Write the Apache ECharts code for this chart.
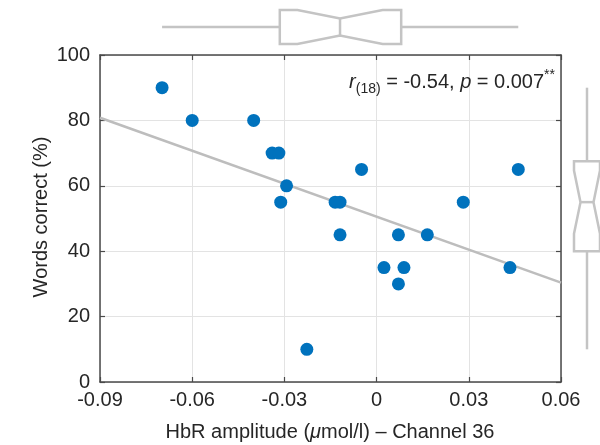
<!DOCTYPE html>
<html>
<head>
<meta charset="utf-8">
<script src="https://cdn.jsdelivr.net/npm/echarts@6/dist/echarts.min.js"></script>
<style>html,body{margin:0;padding:0;background:#fff}#c{width:600px;height:445px}</style>
</head>
<body>
<div id="c"></div>
<script>
// ---- data ----
var hbrAmplitude = [-0.0698, -0.0600, -0.0400, -0.0340, -0.0318, -0.0293, -0.0312, -0.0049, -0.0135, -0.0119,
                    -0.0119, -0.0227, 0.0461, 0.0282, 0.0071, 0.0165, 0.0024, 0.0089, 0.0071, 0.0434];
var wordsCorrect = [90, 80, 80, 70, 70, 60, 55, 65, 55, 55,
                    45, 10, 65, 55, 45, 45, 35, 35, 30, 35];
var fitX = [-0.09, 0.06];
var fitY = [80.8, 30.4];
var xTicks = [-0.09, -0.06, -0.03, 0, 0.03, 0.06];
var yTicks = [0, 20, 40, 60, 80, 100];
var statText = {r: 'r', df: '(18)', rest1: ' = -0.54, ', p: 'p', rest2: ' = 0.007', stars: '**'};

// ---- helpers ----
function prctile(arr, p) { // MATLAB-style percentile
  var s = arr.slice().sort(function (a, b) { return a - b; });
  var n = s.length, pos = p / 100 * n + 0.5;
  if (pos <= 1) return s[0];
  if (pos >= n) return s[n - 1];
  var i = Math.floor(pos), f = pos - i;
  return s[i - 1] + f * (s[i] - s[i - 1]);
}
function boxStats(arr) {
  var q1 = prctile(arr, 25), med = prctile(arr, 50), q3 = prctile(arr, 75);
  var iqr = q3 - q1, n = arr.length;
  var lo = q1 - 1.5 * iqr, hi = q3 + 1.5 * iqr;
  var wLo = Math.min.apply(null, arr.filter(function (v) { return v >= lo; }));
  var wHi = Math.max.apply(null, arr.filter(function (v) { return v <= hi; }));
  var nh = 1.57 * iqr / Math.sqrt(n);
  return [q1, med - nh, med, med + nh, q3, wLo, wHi];
}
var xBox = boxStats(hbrAmplitude);
var yBox = boxStats(wordsCorrect);

var txt = '#262626', boxCol = '#c4c4c4', axisCol = '#4a4a4a';
var FONT = 'Liberation Sans, Arial, sans-serif';

function fmtX(v) { if (Math.abs(v) < 1e-9) return '0'; return (Math.round(v * 100) / 100).toFixed(2); }

var scatterData = hbrAmplitude.map(function (x, i) { return [x, wordsCorrect[i]]; });
var fitData = fitX.map(function (x, i) { return [x, fitY[i]]; });

var chart = echarts.init(document.getElementById('c'), null, {renderer: 'canvas'});

function notchedBox(horizontal) {
  return function (params, api) {
    var q1 = api.value(0), nlo = api.value(1), med = api.value(2), nhi = api.value(3),
        q3 = api.value(4), wlo = api.value(5), whi = api.value(6);
    var pts, wl, wh, ml;
    var P = horizontal ? function (v, t) { return api.coord([v, t]); }
                       : function (v, t) { return api.coord([t, v]); };
    pts = [P(q1, 0), P(nlo, 0), P(med, 0.25), P(nhi, 0), P(q3, 0), P(q3, 1), P(nhi, 1), P(med, 0.75), P(nlo, 1), P(q1, 1)];
    wl = [P(wlo, 0.5), P(q1, 0.5)];
    wh = [P(q3, 0.5), P(whi, 0.5)];
    ml = [P(med, 0.25), P(med, 0.75)];
    var st = {stroke: boxCol, lineWidth: 2.5, fill: null};
    return {
      type: 'group',
      children: [
        {type: 'polygon', shape: {points: pts}, style: {stroke: boxCol, lineWidth: 2.5, fill: '#fff', lineJoin: 'miter'}},
        {type: 'line', shape: {x1: wl[0][0], y1: wl[0][1], x2: wl[1][0], y2: wl[1][1]}, style: st},
        {type: 'line', shape: {x1: wh[0][0], y1: wh[0][1], x2: wh[1][0], y2: wh[1][1]}, style: st},
        {type: 'line', shape: {x1: ml[0][0], y1: ml[0][1], x2: ml[1][0], y2: ml[1][1]}, style: st}
      ]
    };
  };
}

var option = {
  animation: false,
  textStyle: {fontFamily: FONT},
  grid: [
    {left: 100, top: 55, width: 461, height: 327},
    {left: 100, top: 10, width: 461, height: 34},
    {left: 574, top: 55, width: 34, height: 327}
  ],
  xAxis: [
    {gridIndex: 0, type: 'value', min: -0.09, max: 0.06, interval: 0.03,
     axisLine: {show: true, onZero: false, lineStyle: {color: axisCol, width: 1.5}},
     axisTick: {show: true, inside: true, length: 5, lineStyle: {color: axisCol, width: 1.2}},
     axisLabel: {color: txt, fontSize: 20, fontFamily: FONT, margin: 8, formatter: fmtX},
     splitLine: {show: true, lineStyle: {color: '#e3e3e3', width: 1}}},
    {gridIndex: 0, type: 'value', position: 'top', min: -0.09, max: 0.06, interval: 0.03,
     axisLine: {show: true, onZero: false, lineStyle: {color: axisCol, width: 1.5}},
     axisTick: {show: true, inside: true, length: 5, lineStyle: {color: axisCol, width: 1.2}},
     axisLabel: {show: false}, splitLine: {show: false}},
    {gridIndex: 1, type: 'value', min: -0.09, max: 0.06, show: false},
    {gridIndex: 2, type: 'value', min: 0, max: 1, show: false}
  ],
  yAxis: [
    {gridIndex: 0, type: 'value', min: 0, max: 100, interval: 20,
     axisLine: {show: true, onZero: false, lineStyle: {color: axisCol, width: 1.5}},
     axisTick: {show: true, inside: true, length: 5, lineStyle: {color: axisCol, width: 1.2}},
     axisLabel: {color: txt, fontSize: 20, fontFamily: FONT, margin: 10},
     splitLine: {show: true, lineStyle: {color: '#e3e3e3', width: 1}}},
    {gridIndex: 0, type: 'value', position: 'right', min: 0, max: 100, interval: 20,
     axisLine: {show: true, onZero: false, lineStyle: {color: axisCol, width: 1.5}},
     axisTick: {show: true, inside: true, length: 5, lineStyle: {color: axisCol, width: 1.2}},
     axisLabel: {show: false}, splitLine: {show: false}},
    {gridIndex: 1, type: 'value', min: 0, max: 1, show: false},
    {gridIndex: 2, type: 'value', min: 0, max: 100, show: false}
  ],
  series: [
    {type: 'line', xAxisIndex: 0, yAxisIndex: 0, data: fitData, symbol: 'none', z: 2,
     lineStyle: {color: '#bdbdbd', width: 2.5}},
    {type: 'scatter', xAxisIndex: 0, yAxisIndex: 0, data: scatterData, symbolSize: 13, z: 3,
     itemStyle: {color: '#0072BD', opacity: 1}},
    {type: 'custom', xAxisIndex: 2, yAxisIndex: 2, data: [xBox], renderItem: notchedBox(true), clip: false},
    {type: 'custom', xAxisIndex: 3, yAxisIndex: 3, data: [yBox], renderItem: notchedBox(false), clip: false}
  ],
  graphic: [
    {type: 'text', right: 600 - 555, top: 68, z: 10,
     style: {
       text: '{i|' + statText.r + '}{s|' + statText.df + '}{n|' + statText.rest1 + '}{i|' + statText.p + '}{n|' + statText.rest2 + '}{u|' + statText.stars + '}',
       rich: {
         i: {fontSize: 20, fontStyle: 'italic', fill: txt, fontFamily: FONT, lineHeight: 28, verticalAlign: 'middle'},
         n: {fontSize: 20, fill: txt, fontFamily: FONT, lineHeight: 28, verticalAlign: 'middle'},
         s: {fontSize: 14, fill: txt, fontFamily: FONT, lineHeight: 28, verticalAlign: 'bottom'},
         u: {fontSize: 14, fill: txt, fontFamily: FONT, lineHeight: 28, verticalAlign: 'top'}
       }
     }},
    {type: 'text', x: 330, y: 432, z: 10,
     style: {
       text: '{n|HbR amplitude (}{i|μ}{n|mol/l) – Channel 36}',
       align: 'center', verticalAlign: 'middle',
       rich: {
         n: {fontSize: 20, fill: txt, fontFamily: FONT},
         i: {fontSize: 20, fill: txt, fontFamily: FONT, fontStyle: 'italic'}
       }
     }},
    {type: 'text', x: 41, y: 217, rotation: Math.PI / 2, z: 10,
     style: {text: 'Words correct (%)', fontSize: 20, fill: txt, fontFamily: FONT, align: 'center', verticalAlign: 'middle'}}
  ]
};
chart.setOption(option);
</script>
</body>
</html>
